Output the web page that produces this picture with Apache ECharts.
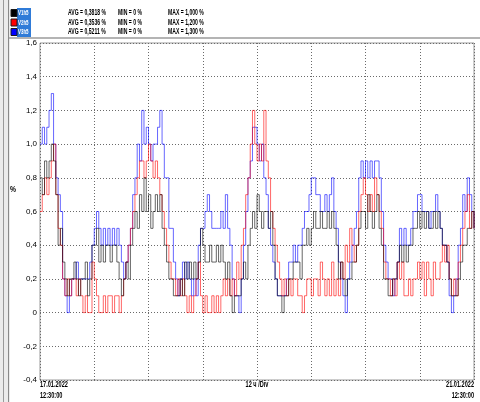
<!DOCTYPE html>
<html>
<head>
<meta charset="utf-8">
<script src="https://cdn.jsdelivr.net/npm/echarts@6/dist/echarts.min.js"></script>
<style>
  html, body { margin: 0; padding: 0; background: #ffffff; }
  #chart { width: 480px; height: 402px; }
</style>
</head>
<body>
<div id="chart"></div>
<script>
// Harmonic level samples (%), one value every 30 minutes from 17.01.2022 12:30:00
const stepHours = 0.5;

const v1h5 = [
  0.8,0.7,0.9,0.8,0.9,1.0,0.9,0.7,0.4,0.5,
  0.3,0.2,0.1,0.2,0.2,0.3,0.2,0.1,0.2,0.2,
  0.3,0.1,0.2,0.4,0.4,0.5,0.3,0.4,0.3,0.4,
  0.4,0.3,0.4,0.4,0.3,0.2,0.1,0.2,0.3,0.2,
  0.4,0.5,0.6,0.5,0.7,0.6,0.8,0.6,0.7,0.5,
  0.6,0.7,0.6,0.7,0.5,0.4,0.3,0.2,0.2,0.1,
  0.1,0.1,0.2,0.1,0.3,0.2,0.3,0.2,0.3,0.2,
  0.3,0.5,0.4,0.3,0.3,0.4,0.3,0.3,0.4,0.3,
  0.4,0.3,0.2,0.3,0.1,0.0,0.1,0.1,0.1,0.2,
  0.3,0.2,0.4,0.5,0.6,0.5,0.7,0.6,0.5,0.6,
  0.6,0.5,0.6,0.4,0.2,0.1,0.1,0.0,0.1,0.1,
  0.2,0.2,0.3,0.3,0.3,0.2,0.4,0.4,0.5,0.4,
  0.5,0.6,0.5,0.5,0.6,0.5,0.5,0.6,0.5,0.6,
  0.5,0.4,0.2,0.3,0.2,0.1,0.2,0.2,0.3,0.3,
  0.4,0.5,0.6,0.6,0.5,0.7,0.6,0.5,0.6,0.7,
  0.5,0.4,0.2,0.2,0.1,0.1,0.2,0.2,0.3,0.4,
  0.3,0.4,0.3,0.4,0.4,0.5,0.5,0.6,0.5,0.6,
  0.5,0.6,0.5,0.5,0.6,0.5,0.6,0.5,0.4,0.4,
  0.3,0.2,0.1,0.1,0.1,0.2,0.3,0.4,0.4,0.5,
  0.5,0.6,0.5
];

const v2h5 = [
  0.6,0.7,0.8,0.7,0.8,0.9,1.0,0.7,0.5,0.4,
  0.2,0.1,0.2,0.1,0.2,0.2,0.1,0.2,0.1,0.0,
  0.1,0.0,0.0,0.3,0.2,0.1,0.0,0.0,0.1,0.0,
  0.1,0.1,0.0,0.1,0.1,0.0,0.1,0.2,0.3,0.4,
  0.5,0.6,0.7,0.8,0.9,0.9,0.8,0.9,1.0,0.9,
  0.8,0.9,0.8,0.7,0.6,0.5,0.4,0.3,0.2,0.2,
  0.1,0.2,0.1,0.2,0.1,0.0,0.1,0.0,0.1,0.2,
  0.3,0.1,0.0,0.1,0.0,0.0,0.1,0.0,0.1,0.0,
  0.1,0.2,0.1,0.2,0.1,0.2,0.1,0.3,0.2,0.4,
  0.5,0.7,0.8,1.0,1.2,1.0,0.9,1.0,0.9,1.2,
  0.9,0.8,0.6,0.5,0.4,0.3,0.2,0.1,0.2,0.1,
  0.2,0.1,0.2,0.2,0.1,0.1,0.0,0.1,0.2,0.2,
  0.1,0.2,0.2,0.1,0.3,0.2,0.1,0.2,0.1,0.3,
  0.1,0.2,0.1,0.3,0.2,0.4,0.3,0.5,0.4,0.3,
  0.4,0.6,0.7,0.8,0.7,0.6,0.7,0.6,0.8,0.7,
  0.6,0.5,0.3,0.2,0.2,0.1,0.2,0.1,0.3,0.2,
  0.3,0.1,0.1,0.2,0.1,0.2,0.2,0.3,0.2,0.3,
  0.1,0.3,0.2,0.1,0.3,0.2,0.2,0.3,0.4,0.3,
  0.4,0.2,0.1,0.2,0.1,0.3,0.4,0.5,0.6,0.7,
  0.5,0.6,0.5
];

const v3h5 = [
  1.0,1.1,1.0,1.1,1.2,1.3,1.0,0.8,0.7,0.6,
  0.2,0.1,0.0,0.1,0.2,0.2,0.3,0.2,0.2,0.2,
  0.2,0.2,0.3,0.4,0.5,0.6,0.5,0.4,0.5,0.4,
  0.5,0.4,0.5,0.4,0.5,0.4,0.3,0.2,0.3,0.4,
  0.5,0.7,0.8,1.0,0.9,1.2,1.0,1.1,1.0,0.9,
  1.0,1.0,1.1,1.2,1.0,0.8,0.8,0.5,0.5,0.3,
  0.2,0.1,0.2,0.3,0.2,0.3,0.2,0.1,0.2,0.1,
  0.4,0.5,0.5,0.6,0.7,0.6,0.5,0.5,0.5,0.5,
  0.6,0.5,0.7,0.5,0.4,0.2,0.1,0.1,0.0,0.2,
  0.4,0.6,0.8,0.9,1.1,1.1,1.0,0.9,1.0,0.8,
  0.7,0.5,0.4,0.3,0.2,0.1,0.1,0.1,0.1,0.2,
  0.3,0.3,0.4,0.3,0.4,0.4,0.5,0.6,0.6,0.7,
  0.8,0.8,0.7,0.7,0.6,0.6,0.7,0.6,0.7,0.8,
  0.6,0.5,0.3,0.2,0.1,0.0,0.2,0.3,0.4,0.5,
  0.6,0.8,0.9,0.8,0.9,0.8,0.9,0.8,0.9,0.9,
  0.8,0.6,0.4,0.3,0.2,0.2,0.1,0.2,0.3,0.5,
  0.4,0.5,0.4,0.4,0.5,0.6,0.6,0.7,0.7,0.6,
  0.6,0.6,0.5,0.6,0.6,0.7,0.6,0.5,0.4,0.4,
  0.3,0.1,0.0,0.1,0.2,0.4,0.5,0.7,0.6,0.8,
  0.7,0.6,0.5
];

// Legend rows: channel name, colour, summary texts
const channelNames = ['V1h5', 'V2h5', 'V3h5'];
const channelColors = ['#000000', '#ff0000', '#0000ff'];
const avgTexts = ['AVG = 0,3818 %', 'AVG = 0,3536 %', 'AVG = 0,5211 %'];
const minTexts = ['MIN = 0 %', 'MIN = 0 %', 'MIN = 0 %'];
const maxTexts = ['MAX = 1,000 %', 'MAX = 1,200 %', 'MAX = 1,300 %'];

// Axis labels
const yTickLabels = ['-0,4', '-0,2', '0', '0,2', '0,4', '0,6', '0,8', '1,0', '1,2', '1,4', '1,6'];
const yUnit = '%';
const xStartLabel = ['17.01.2022', '12:30:00'];
const xMidLabel = '12 ч /Div';
const xEndLabel = ['21.01.2022', '12:30:00'];

const FONT = '"Liberation Sans", Arial, sans-serif';

function toPairs(vals) {
  return vals.map((v, i) => [i * stepHours, v]);
}

// narrow instrument-style text: a bold face squeezed horizontally
function txt(x, y, text, opts) {
  opts = opts || {};
  return {
    type: 'text', x: x, y: y, scaleX: opts.squeeze || 0.62, silent: true,
    style: {
      text: text, fill: opts.fill || '#000', font: 'bold ' + (opts.size || 9) + 'px ' + FONT,
      align: opts.align || 'left', verticalAlign: opts.vAlign || 'middle'
    }
  };
}

const chart = echarts.init(document.getElementById('chart'), null, { renderer: 'canvas' });

const grid = { left: 40, right: 6, top: 43, bottom: 22 };
const plotRight = 480 - grid.right;
const plotBottom = 402 - grid.bottom;
const plotMid = (grid.left + plotRight) / 2;

const header = [];
// window frame on the left and separator above the plot
header.push({ type: 'rect', shape: { x: 0, y: 0, width: 10, height: 402 }, style: { fill: '#ececec' }, silent: true });
header.push({ type: 'rect', shape: { x: 3, y: 0, width: 1, height: 402 }, style: { fill: '#9a9a9a' }, silent: true });
header.push({ type: 'rect', shape: { x: 8, y: 0, width: 1, height: 402 }, style: { fill: '#8a8a8a' }, silent: true });
header.push({ type: 'rect', shape: { x: 9, y: 37, width: 471, height: 2 }, style: { fill: '#b4b4b4' }, silent: true });
// channel name column
header.push({ type: 'rect', shape: { x: 17, y: 8, width: 14, height: 29 }, style: { fill: '#2f7bd8' }, silent: true });

const rowY = [13, 22.5, 32];
channelNames.forEach((name, k) => {
  header.push({ type: 'rect', shape: { x: 11, y: rowY[k] - 3.5, width: 6, height: 7 },
    style: { fill: channelColors[k], stroke: '#1a1a1a', lineWidth: 1 }, silent: true });
  header.push(txt(18, rowY[k], name, { fill: '#ffffff', size: 8, squeeze: 0.55 }));
  header.push(txt(68, rowY[k], avgTexts[k], { size: 8.5, squeeze: 0.6 }));
  header.push(txt(118, rowY[k], minTexts[k], { size: 8.5, squeeze: 0.6 }));
  header.push(txt(168, rowY[k], maxTexts[k], { size: 8.5, squeeze: 0.6 }));
});

// unit and time-axis captions
header.push(txt(10, 190, yUnit, { squeeze: 0.75 }));
header.push(txt(grid.left, plotBottom + 5, xStartLabel[0]));
header.push(txt(grid.left, plotBottom + 16, xStartLabel[1]));
header.push(txt(plotMid, plotBottom + 5, xMidLabel, { align: 'center' }));
header.push(txt(plotRight, plotBottom + 5, xEndLabel[0], { align: 'right' }));
header.push(txt(plotRight, plotBottom + 16, xEndLabel[1], { align: 'right' }));

const yMin = -0.4, yStep = 0.2;

function lineSeries(name, vals, color, opacity) {
  return {
    name: name,
    type: 'line',
    step: 'end',
    data: toPairs(vals),
    showSymbol: false,
    symbol: 'none',
    animation: false,
    lineStyle: { color: color, width: 1, opacity: opacity },
    itemStyle: { color: color }
  };
}

chart.setOption({
  animation: false,
  backgroundColor: '#ffffff',
  textStyle: { fontFamily: FONT },
  grid: Object.assign({ show: true, borderColor: '#9a9a9a', borderWidth: 1, backgroundColor: '#ffffff' }, grid),
  xAxis: {
    type: 'value', min: 0, max: 96, interval: 12,
    axisLine: { show: false }, axisTick: { show: false },
    splitLine: { show: true, lineStyle: { color: '#6a6a6a', type: [1, 2], width: 1 } },
    axisLabel: { show: false }
  },
  yAxis: {
    type: 'value', min: yMin, max: 1.6, interval: yStep,
    axisLine: { show: false }, axisTick: { show: false },
    splitLine: { show: true, lineStyle: { color: '#6a6a6a', type: [1, 2], width: 1 } },
    axisLabel: {
      margin: 3, fontSize: 8, color: '#000', fontFamily: FONT,
      formatter: function (v) {
        const idx = Math.round((v - yMin) / yStep);
        return yTickLabels[idx] !== undefined ? yTickLabels[idx] : '';
      }
    }
  },
  series: [
    lineSeries(channelNames[2], v3h5, channelColors[2], 0.6),
    lineSeries(channelNames[1], v2h5, channelColors[1], 0.6),
    lineSeries(channelNames[0], v1h5, channelColors[0], 0.6)
  ],
  graphic: header
});
</script>
</body>
</html>
